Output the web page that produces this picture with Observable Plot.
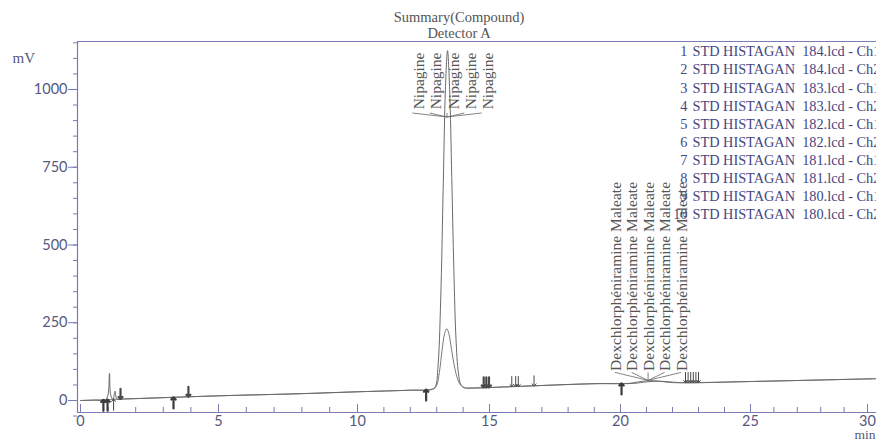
<!DOCTYPE html>
<html><head><meta charset="utf-8">
<script src="https://cdn.jsdelivr.net/npm/d3@7"></script>
<script src="https://cdn.jsdelivr.net/npm/@observablehq/plot@0.6"></script>
<style>
html,body{margin:0;padding:0;background:#fff;overflow:hidden;width:876px;height:445px}
</style>
</head><body><div id="chart"></div>
<script>
// ---------------- data ----------------
const titleLines = ["Summary(Compound)", "Detector A"];
const yLabel = "mV";
const xLabel = "min";
const yMajorTicks = [0, 250, 500, 750, 1000];
const yMinorTicks = [-50,0,50,100,150,200,250,300,350,400,450,500,550,600,650,700,750,800,850,900,950,1000,1050,1100,1150];
const xMajorTicks = [0, 5, 10, 15, 20, 25, 30];
const xMinorTicks = [0,1,2,3,4,5,6,7,8,9,10,11,12,13,14,15,16,17,18,19,20,21,22,23,24,25,26,27,28,29,30];

// trace with the tall Nipagine peak (min, mV)
const traceATime  = [0, 0.5, 0.9, 1.0, 1.05, 1.1, 1.18, 1.25, 1.32, 1.6, 3, 5, 8, 10, 12, 12.8, 12.95, 13.05, 13.15, 13.25, 13.33, 13.41, 13.49, 13.57, 13.65, 13.73, 13.82, 13.92, 14.05, 14.3, 16, 19, 20.5, 21.0, 21.5, 22.0, 22.5, 25, 28, 30.35];
const traceAValue = [0, 1, 2, 20, 87, 15, 4, 30, 5, 5, 9, 15, 22, 28, 33, 36, 45, 110, 320, 700, 1000, 1125, 1000, 720, 420, 200, 90, 50, 41, 40, 45, 54, 55, 60, 62, 59, 57, 61, 66, 70];
// trace with the small Nipagine peak
const traceBTime  = [0, 1.6, 5, 8, 10, 12, 12.85, 12.98, 13.1, 13.2, 13.3, 13.38, 13.46, 13.56, 13.66, 13.78, 13.9, 14.05, 14.3, 16, 19, 20.3, 20.7, 21.1, 21.5, 21.9, 22.4, 25, 28, 30.35];
const traceBValue = [0, 5, 15, 22, 28, 33, 36, 45, 90, 160, 215, 231, 215, 165, 115, 72, 50, 41, 40, 45, 54, 55, 60, 64, 62, 58, 57, 61, 66, 70];

// peak labels (5 injections labelled per peak)
const peakNames = ["Nipagine", "Dexchlorphéniramine Maleate"];
const peakTimes = [13.41, 21.08];
const peakApex  = [1125, 63];
const labelsPerPeak = 5;

// integration markers: peak start (up) and peak end (down)
const upMarkTime   = [0.83, 0.98, 1.2, 3.37, 12.6, 20.04];
const upMarkValue  = [2, 3, 4, 10, 35, 55];
const upMarkKind   = ["double", "double", "single", "double", "double", "double"];
const downMarkTime  = [1.45, 3.91, 14.78, 14.88, 14.98, 15.85, 16.0, 16.1, 16.7, 22.5, 22.6, 22.7, 22.8, 22.9, 23.0];
const downMarkValue = [5, 12, 42, 42, 42, 45, 45, 45, 47, 58, 58, 58, 58, 58, 58];
const downMarkKind  = ["double", "double", "double", "double", "double", "single", "single", "single", "single", "single", "single", "single", "single", "single", "single"];

// legend
const legendNumbers  = ["1","2","3","4","5","6","7","8","9","10"];
const legendFiles    = ["184","184","183","183","182","182","181","181","180","180"];
const legendChannels = ["Ch1","Ch2","Ch1","Ch2","Ch1","Ch2","Ch1","Ch2","Ch1","Ch2"];

// ---------------- build ----------------
const traceA = traceATime.map((t, i) => ({t, v: traceAValue[i]}));
const traceB = traceBTime.map((t, i) => ({t, v: traceBValue[i]}));
const peaks = peakNames.map((name, i) => ({name, t: peakTimes[i], apex: peakApex[i]}));
const ups = upMarkTime.map((t, i) => ({t, v: upMarkValue[i], kind: upMarkKind[i]}));
const downs = downMarkTime.map((t, i) => ({t, v: downMarkValue[i], kind: downMarkKind[i]}));
const legendLeft = legendNumbers.join("\n");
const legendRight = legendFiles.map((f, i) => `STD HISTAGAN  ${f}.lcd - ${legendChannels[i]}`).join("\n");

const axisColor = "#7a7ab4";
const tickText = "#56597e";
const inkGray = "#555";
const legendInk = "#46467f";
const serif = "Liberation Serif";
const sans = "Lato";

const xDomain = [-0.11, 0, 5, 10, 15, 20, 25, 30, 30.35];
const xRange  = [77, 80, 218, 357, 489, 620, 750, 867, 875];
const yDomain = [-38.6, 1154.3];

const nipLabelMarks = d3.range(labelsPerPeak).map(i =>
  Plot.text([peaks[0]], {x: "t", text: "name", frameAnchor: "top", dy: 11, dx: (i - 2) * 17.3,
    rotate: -90, textAnchor: "end", fontSize: 15.5, fontFamily: serif, fill: inkGray}));
const dexLabelMarks = d3.range(labelsPerPeak).map(i =>
  Plot.text([peaks[1]], {x: "t", y: "apex", text: "name", dy: -10, dx: (i - 2) * 16.5,
    rotate: -90, textAnchor: "start", fontSize: 15.5, fontFamily: serif, fill: inkGray}));

const markWidth = d => d.kind === "double" ? 2.2 : 1;

const chart = Plot.plot({
  width: 876, height: 445,
  marginLeft: 77, marginRight: 0, marginTop: 41, marginBottom: 33,
  style: {background: "white", overflow: "visible"},
  x: {type: "linear", domain: xDomain, range: xRange, label: null},
  y: {domain: yDomain, label: null},
  marks: [
    Plot.ruleY([yDomain[1]], {stroke: axisColor, strokeWidth: 1.2}),
    Plot.ruleY([yDomain[0]], {stroke: axisColor, strokeWidth: 1.2}),
    Plot.ruleX([xDomain[0]], {stroke: axisColor, strokeWidth: 1.2}),
    Plot.axisY(yMinorTicks, {tickSize: 4, tickFormat: () => "", stroke: axisColor, label: null}),
    Plot.axisY(yMajorTicks, {tickSize: 9, tickPadding: 1, tickFormat: d => String(d), stroke: axisColor, fill: tickText,
      fontSize: 14.5, fontFamily: sans, label: null}),
    Plot.tickX(xMinorTicks, {x: d => d, insetTop: 366, stroke: axisColor}),
    Plot.tickX(xMajorTicks, {x: d => d, insetTop: 363, stroke: axisColor}),
    Plot.axisX(xMajorTicks, {tickSize: 0, tickPadding: 3, tickFormat: d => String(d), fill: tickText, fontSize: 14.5,
      fontFamily: sans, label: null}),
    Plot.text([yLabel], {frameAnchor: "top-left", dx: -65, dy: 11, textAnchor: "start",
      fontSize: 15, fontFamily: serif, fill: tickText}),
    Plot.text([xLabel], {frameAnchor: "bottom-right", dx: -1, dy: 26, textAnchor: "end",
      fontSize: 13.5, fontFamily: serif, fill: tickText}),
    Plot.text([titleLines.join("\n")], {frameAnchor: "top", dx: -18, dy: -4, lineAnchor: "bottom",
      lineHeight: 1.1, fontSize: 14.5, fontFamily: serif, fill: inkGray}),
    Plot.text([legendLeft], {frameAnchor: "top-left", dx: 610, dy: 2, lineAnchor: "top",
      textAnchor: "end", lineHeight: 1.266, fontSize: 14.3, fontFamily: serif, fill: legendInk}),
    Plot.text([legendRight], {frameAnchor: "top-left", dx: 615, dy: 2, lineAnchor: "top",
      textAnchor: "start", lineHeight: 1.266, fontSize: 14.3, fontFamily: serif, fill: legendInk}),
    Plot.line(traceB, {x: "t", y: "v", stroke: "#7a7a7a", strokeWidth: 1, curve: "catmull-rom"}),
    Plot.line(traceA, {x: "t", y: "v", stroke: "#6a6a6a", strokeWidth: 1, curve: "catmull-rom"}),
    ...nipLabelMarks,
    ...dexLabelMarks,
    Plot.vector(ups, {x: "t", y: "v", length: 11, rotate: 0, anchor: "end", stroke: "#3c3c3c",
      strokeWidth: markWidth}),
    Plot.vector(downs, {x: "t", y: "v", length: 10, rotate: 180, anchor: "end", stroke: "#4a4a4a",
      strokeWidth: markWidth})
  ]
});
document.getElementById("chart").appendChild(chart);

// leader lines from each peak label to its peak, positioned through Plot's scales
const sx = chart.scale("x"), sy = chart.scale("y");
const leaders = d3.select(chart).append("g").attr("fill", "none").attr("stroke", "#666").attr("stroke-width", 0.8);
{
  const px = sx.apply(peaks[0].t);
  for (let i = 0; i < labelsPerPeak; i++) {
    const lx = px + (i - 2) * 17.3;
    leaders.append("path").attr("d", `M${lx},113L${px},117`);
  }
}
{
  const px = sx.apply(peaks[1].t), py = sy.apply(peaks[1].apex);
  for (let i = 0; i < labelsPerPeak; i++) {
    const lx = px + (i - 2) * 16.5;
    leaders.append("path").attr("d", `M${lx},${py - 8}L${px},${py}`);
  }
}
</script>
</body></html>
